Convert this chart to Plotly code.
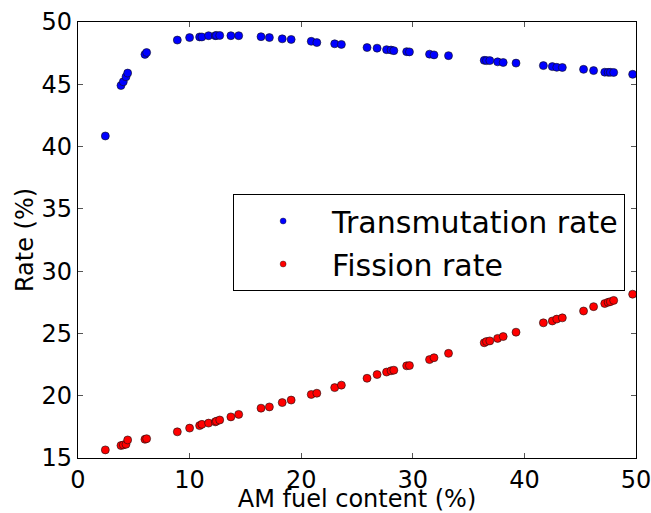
import plotly.graph_objects as go

am_content = [2.45, 3.85, 4.06, 4.3, 4.45, 6.0, 6.15, 8.9, 10.0, 10.9, 11.1, 11.7, 12.3, 12.4, 12.7,
              13.7, 14.4, 16.4, 17.15, 18.3, 19.1, 20.9, 21.4, 23.0, 23.6, 25.9, 26.8, 27.65,
              28.05, 28.3, 29.45, 29.7, 31.5, 31.9, 33.2, 36.4, 36.6, 36.9, 37.6, 38.1, 39.25,
              41.7, 42.5, 42.9, 43.4, 45.3, 46.2, 47.2, 47.5, 47.7, 48.0, 49.7]

transmutation_rate = [40.85, 44.9, 45.2, 45.6, 45.9, 47.4, 47.55, 48.55, 48.75, 48.8, 48.8, 48.9, 48.9,
                      48.92, 48.92, 48.9, 48.9, 48.82, 48.75, 48.65, 48.6, 48.45, 48.35, 48.25, 48.2,
                      47.95, 47.9, 47.78, 47.75, 47.7, 47.62, 47.6, 47.42, 47.36, 47.3, 46.92, 46.9,
                      46.9, 46.8, 46.75, 46.7, 46.5, 46.42, 46.36, 46.35, 46.2, 46.1, 45.97, 45.96,
                      45.96, 45.95, 45.8]

fission_rate = [15.65, 16.0, 16.05, 16.1, 16.45, 16.5, 16.55, 17.1, 17.4, 17.6, 17.7, 17.8, 17.9, 17.95,
                18.05, 18.3, 18.5, 19.0, 19.1, 19.45, 19.65, 20.1, 20.2, 20.65, 20.85, 21.4, 21.7,
                21.9, 22.0, 22.05, 22.4, 22.42, 22.9, 23.05, 23.4, 24.25, 24.35, 24.4, 24.6, 24.75,
                25.1, 25.85, 26.0, 26.15, 26.25, 26.8, 27.15, 27.4, 27.5, 27.55, 27.65, 28.15]

x_ticks = [0, 10, 20, 30, 40, 50]
y_ticks = [15, 20, 25, 30, 35, 40, 45, 50]

font_family = "DejaVu Sans"
blue = "#0000ff"
red = "#ff0000"
edge = "#111111"

fig = go.Figure()
fig.add_trace(go.Scatter(
    x=am_content, y=transmutation_rate, mode="markers", showlegend=False,
    marker=dict(color=blue, size=8, line=dict(color=edge, width=0.6)),
))
fig.add_trace(go.Scatter(
    x=am_content, y=fission_rate, mode="markers", showlegend=False,
    marker=dict(color=red, size=8, line=dict(color=edge, width=0.6)),
))
# legend-only entries (smaller legend symbols like the reference)
fig.add_trace(go.Scatter(
    x=[None], y=[None], mode="markers", name="Transmutation rate", legendgroup="a",
    marker=dict(color=blue, size=6, line=dict(color=edge, width=0.4)),
))
fig.add_trace(go.Scatter(
    x=[None], y=[None], mode="markers", name="Fission rate", legendgroup="b",
    marker=dict(color=red, size=6, line=dict(color=edge, width=0.4)),
))

axis_common = dict(
    showline=True, linecolor="black", linewidth=1.2, mirror="ticks",
    ticks="inside", ticklen=5, tickcolor="#555555", tickwidth=1,
    showgrid=False, zeroline=False, automargin=False,
    ticklabeloverflow="allow",
    tickfont=dict(family=font_family, size=24, color="black"),
)

fig.update_xaxes(range=[0, 50], tickvals=x_ticks, ticktext=[str(v) for v in x_ticks],
                 title=dict(text="AM fuel content (%)", font=dict(family=font_family, size=24, color="black"),
                            standoff=0),
                 **axis_common)
fig.update_yaxes(range=[15, 50], tickvals=y_ticks, ticktext=[str(v) for v in y_ticks],
                 title=dict(text="Rate (%)", font=dict(family=font_family, size=24, color="black"),
                            standoff=1),
                 **axis_common)

fig.update_layout(
    width=651, height=513,
    margin=dict(l=78, r=15, t=22, b=55),
    plot_bgcolor="white", paper_bgcolor="white",
    font=dict(family=font_family, color="black"),
    showlegend=True,
    legend=dict(
        x=0.278, y=0.6055, xanchor="left", yanchor="top",
        bgcolor="white", bordercolor="black", borderwidth=1,
        font=dict(family=font_family, size=30, color="black"),
        itemwidth=88, tracegroupgap=1, traceorder="grouped",
    ),
)

fig.write_html("out.html", config={"displayModeBar": False},
               post_script="document.body.style.margin='0px';")
